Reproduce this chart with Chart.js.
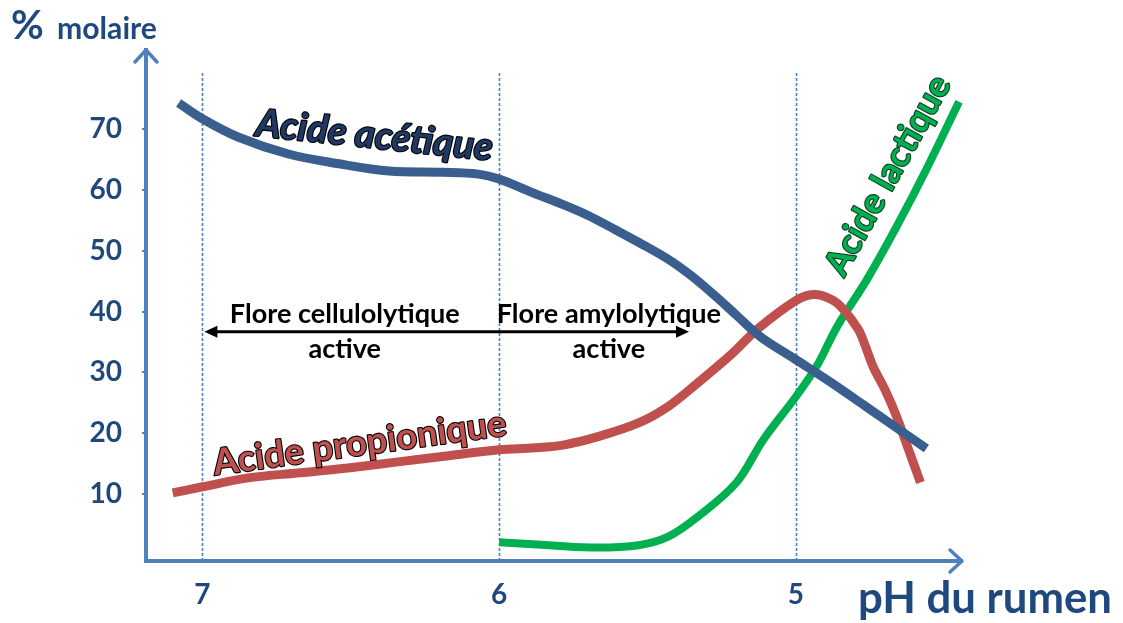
<!DOCTYPE html>
<html>
<head>
<meta charset="utf-8">
<script src="https://cdn.jsdelivr.net/npm/chart.js@4/dist/chart.umd.min.js"></script>
<style>
html,body{margin:0;padding:0;background:#fff;}
#wrap{width:1123px;height:623px;}
</style>
</head>
<body>
<div id="wrap"><canvas id="chart" width="1123" height="623"></canvas></div>
<script>
// valeurs (pH -> % molaire)
const phAcetique=[7.08,7.00,6.88,6.71,6.54,6.37,6.19,6.07,6.00,5.89,5.78,5.70,5.61,5.53,5.43,5.35,5.27,5.20,5.12,5.00,4.88,4.77,4.56];
const acetique=[74.3,71.7,68.7,65.9,64.3,63.1,62.9,62.6,61.8,59.6,57.5,55.8,53.5,51.4,48.6,45.8,42.5,39.4,35.9,32.1,28.3,24.6,17.5];

const phPropionique=[7.10,7.00,6.84,6.67,6.51,6.34,6.17,6.00,5.88,5.78,5.67,5.53,5.43,5.33,5.21,5.13,5.00,4.94,4.88,4.84,4.79,4.77,4.74,4.70,4.66,4.62,4.58];
const propionique=[10.2,11.2,12.7,13.5,14.3,15.3,16.3,17.3,17.6,18.1,19.4,21.7,24.4,28.3,33.3,37.1,41.8,42.8,42.0,40.4,37.1,34.9,31.0,27.2,22.7,17.3,11.9];

const phLactique=[6.00,5.83,5.67,5.53,5.43,5.33,5.20,5.11,5.00,4.93,4.86,4.76,4.66,4.56,4.45];
const lactique=[2.1,1.6,1.2,1.6,3.0,6.3,11.9,18.9,26.0,31.0,37.6,45.3,54.0,63.4,74.5];

const xTicks=[7,6,5];
const yTicks=[10,20,30,40,50,60,70];

const FONT='Lato, "Open Sans", sans-serif';
const NAVY='#1F497D';
const AXIS='#4F81BD';

function pts(xs,ys){return xs.map((x,i)=>({x:x,y:ys[i]}));}

// texte ajusté à une largeur donnée
function fitFont(ctx,text,width,weight,style){
  ctx.font=(style||'')+' '+weight+' 100px '+FONT;
  const w=ctx.measureText(text).width;
  return 100*width/w;
}

function drawLabel(ctx,text,x,y,angle,width,fill,stroke,italic){
  ctx.save();
  const size=fitFont(ctx,text,width,'bold',italic?'italic':'');
  ctx.font=(italic?'italic ':'')+'bold '+size+'px '+FONT;
  ctx.translate(x,y);ctx.rotate(angle*Math.PI/180);
  ctx.textAlign='center';ctx.textBaseline='middle';
  ctx.lineJoin='round';ctx.lineWidth=2.2;ctx.strokeStyle=stroke;
  ctx.strokeText(text,0,0);
  ctx.fillStyle=fill;ctx.fillText(text,0,0);
  ctx.restore();
}

function arrowHead(ctx,x,y,dir,len,half){
  // dir en radians : direction de la pointe
  ctx.beginPath();
  ctx.moveTo(x,y);
  ctx.lineTo(x-len*Math.cos(dir)-half*Math.sin(dir),y-len*Math.sin(dir)+half*Math.cos(dir));
  ctx.lineTo(x-len*Math.cos(dir)+half*Math.sin(dir),y-len*Math.sin(dir)-half*Math.cos(dir));
  ctx.closePath();ctx.fill();
}

const decor={
  id:'decor',
  beforeDatasetsDraw(chart){
    const {ctx,scales:{x,y}}=chart;
    ctx.save();
    ctx.strokeStyle=AXIS;ctx.lineWidth=1.6;ctx.setLineDash([3,2]);
    xTicks.forEach(v=>{
      const px=Math.round(x.getPixelForValue(v))+0.5;
      ctx.beginPath();ctx.moveTo(px,y.getPixelForValue(y.min));ctx.lineTo(px,y.getPixelForValue(79.5));ctx.stroke();
    });
    ctx.restore();
  },
  afterDraw(chart){
    const {ctx,chartArea:a,scales:{x,y}}=chart;
    ctx.save();
    // flèches des axes
    ctx.strokeStyle=AXIS;ctx.lineWidth=3.5;ctx.lineCap='round';ctx.lineJoin='round';
    ctx.beginPath();ctx.moveTo(a.left-11,a.top+12);ctx.lineTo(a.left,a.top);ctx.lineTo(a.left+11,a.top+12);ctx.stroke();
    ctx.beginPath();ctx.moveTo(a.right-12,a.bottom-11);ctx.lineTo(a.right,a.bottom);ctx.lineTo(a.right-12,a.bottom+11);ctx.stroke();

    // titres des axes
    ctx.fillStyle=NAVY;ctx.textBaseline='alphabetic';ctx.textAlign='left';
    ctx.font='bold 40px '+FONT;ctx.fillText('%',11,39);
    const sm=fitFont(ctx,'molaire',100,'bold');
    ctx.font='bold '+sm+'px '+FONT;ctx.fillText('molaire',57,39);
    ctx.textAlign='center';
    const s=fitFont(ctx,'pH du rumen',254,'bold');
    ctx.font='bold '+s+'px '+FONT;ctx.fillText('pH du rumen',985,613);

    // flèche flore
    const ya=y.getPixelForValue(36.7);
    const x1=x.getPixelForValue(7)+2,x2=x.getPixelForValue(5.36);
    ctx.strokeStyle='#000';ctx.fillStyle='#000';ctx.lineWidth=3;ctx.lineCap='butt';
    ctx.beginPath();ctx.moveTo(x1+10,ya);ctx.lineTo(x2-10,ya);ctx.stroke();
    arrowHead(ctx,x1,ya,Math.PI,13,6);
    arrowHead(ctx,x2,ya,0,13,6);

    // textes flore
    ctx.textAlign='center';ctx.textBaseline='alphabetic';
    const fs=fitFont(ctx,'Flore cellulolytique',230,'bold');
    ctx.font='bold '+fs+'px '+FONT;
    ctx.fillText('Flore cellulolytique',x.getPixelForValue(6.52),323);
    ctx.fillText('active',x.getPixelForValue(6.52),358);
    ctx.fillText('Flore amylolytique',x.getPixelForValue(5.63),323);
    ctx.fillText('active',x.getPixelForValue(5.63),358);

    // étiquettes des courbes
    drawLabel(ctx,'Acide acétique',x.getPixelForValue(6.42),y.getPixelForValue(68.9),6,238,'#1F3864','#000',true);
    drawLabel(ctx,'Acide propionique',x.getPixelForValue(6.47),y.getPixelForValue(18.3),-7.8,296,'#C0504D','#000',false);
    drawLabel(ctx,'Acide lactique',x.getPixelForValue(4.69),y.getPixelForValue(62.4),-61,222,'#00B050','#0a3d1f',false);
    ctx.restore();
  }
};

const ds=(label,data,color,w)=>({label:label,data:data,borderColor:color,backgroundColor:color,borderWidth:w,
  pointRadius:0,tension:0.35,fill:false,borderCapStyle:'butt',borderJoinStyle:'round'});

new Chart(document.getElementById('chart'),{
  type:'line',
  data:{datasets:[
    ds('Acide acétique',pts(phAcetique,acetique),'#3A5F8F',9),
    ds('Acide propionique',pts(phPropionique,propionique),'#C0504D',9),
    ds('Acide lactique',pts(phLactique,lactique),'#00B050',8)
  ]},
  options:{
    responsive:false,animation:false,
    layout:{padding:{left:0,right:161,top:50,bottom:0}},
    plugins:{legend:{display:false},tooltip:{enabled:false}},
    elements:{line:{capBezierPoints:true}},
    datasets:{line:{clip:false}},
    scales:{
      x:{type:'linear',reverse:true,min:4.44,max:7.19,
        afterBuildTicks:s=>{s.ticks=xTicks.map(v=>({value:v}));},
        afterFit:s=>{s.height=62;},
        border:{color:AXIS,width:4},
        grid:{display:false},
        ticks:{color:NAVY,font:{family:FONT,size:28,weight:'bold'},padding:9,maxRotation:0}
      },
      y:{type:'linear',min:-1,max:83,
        afterBuildTicks:s=>{s.ticks=yTicks.map(v=>({value:v}));},
        afterFit:s=>{s.width=146;},
        border:{color:AXIS,width:4},
        grid:{drawOnChartArea:false,drawTicks:true,tickLength:4,color:AXIS,lineWidth:2},
        ticks:{color:NAVY,font:{family:FONT,size:28,weight:'bold'},padding:20}
      }
    }
  },
  plugins:[decor]
});
</script>
</body>
</html>
